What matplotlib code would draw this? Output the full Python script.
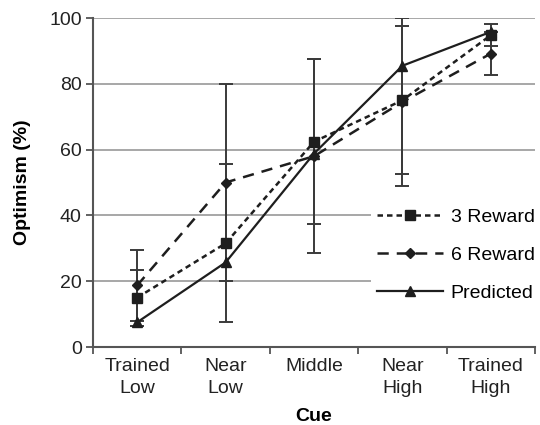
import matplotlib
matplotlib.use("Agg")
import matplotlib.pyplot as plt
import numpy as np

plt.rcParams['font.family'] = ['Liberation Sans', 'DejaVu Sans']

categories = ["Trained\nLow", "Near\nLow", "Middle", "Near\nHigh", "Trained\nHigh"]
reward3 = [15.0, 31.5, 62.4, 75.0, 94.8]
reward3_err = [8.5, 24.0, 25.0, 22.5, 3.3]
reward6 = [18.7, 50.0, 58.0, 74.5, 89.2]
reward6_err = [10.8, 30.0, 29.5, 25.5, 6.5]
predicted = [7.5, 25.7, 58.8, 85.5, 95.8]
yticks = [0, 20, 40, 60, 80, 100]

fig = plt.figure(figsize=(5.4, 4.25), dpi=100)
ax = fig.add_axes([0.172, 0.1835, 0.819, 0.7741])

x = np.arange(len(categories))
line_c = '#1e1e1e'
err_c = '#3a3a3a'

for yv in yticks[1:]:
    ax.axhline(yv, color='#a0a0a0', lw=1.3, zorder=0)

ax.errorbar(x, reward3, yerr=reward3_err, fmt='none', ecolor=err_c,
            elinewidth=1.4, capsize=4.7, capthick=1.4, zorder=2)
ax.errorbar(x, reward6, yerr=reward6_err, fmt='none', ecolor=err_c,
            elinewidth=1.4, capsize=4.7, capthick=1.4, zorder=2)

ax.plot(x, reward3, color=line_c, lw=1.8, ls=(0, (2.2, 1.6)), marker='s',
        ms=7, label='3 Reward', zorder=3)
ax.plot(x, reward6, color=line_c, lw=1.8, ls=(0, (4.5, 3.2)), marker='D',
        ms=5, label='6 Reward', zorder=3)
ax.plot(x, predicted, color=line_c, lw=1.6, ls='-', marker='^',
        ms=7.5, label='Predicted', zorder=3)

ax.set_xlim(-0.5, 4.5)
ax.set_ylim(0, 100)
ax.set_yticks(yticks)
ax.set_yticklabels([str(v) for v in yticks], fontsize=14, color='#222222')

ax.set_xticks(np.arange(-0.5, 5.0, 1.0))
ax.set_xticklabels([])
ax.set_xticks(x, minor=True)
ax.set_xticklabels(categories, minor=True, fontsize=14, color='#222222',
                   linespacing=1.4)
ax.tick_params(axis='x', which='minor', length=0, pad=8)
ax.tick_params(axis='x', which='major', length=5, width=1.3, color='#555555')
ax.tick_params(axis='y', length=5, width=1.3, color='#555555', pad=3)

for s in ['top', 'right']:
    ax.spines[s].set_visible(False)
for s in ['left', 'bottom']:
    ax.spines[s].set_color('#555555')
    ax.spines[s].set_linewidth(1.5)

ax.set_ylabel('Optimism (%)', fontsize=14, fontweight='bold', labelpad=13)
ax.set_xlabel('Cue', fontsize=14, fontweight='bold', labelpad=8)

leg = ax.legend(loc='upper left', bbox_to_anchor=(0.607, 0.47), fontsize=14,
                frameon=True, facecolor='white', edgecolor='none', framealpha=1,
                handlelength=3.4, handletextpad=0.4, labelspacing=1.05,
                borderpad=0.3, fancybox=False)
leg.set_zorder(5)

fig.savefig('out.png', dpi=100, facecolor='white')
